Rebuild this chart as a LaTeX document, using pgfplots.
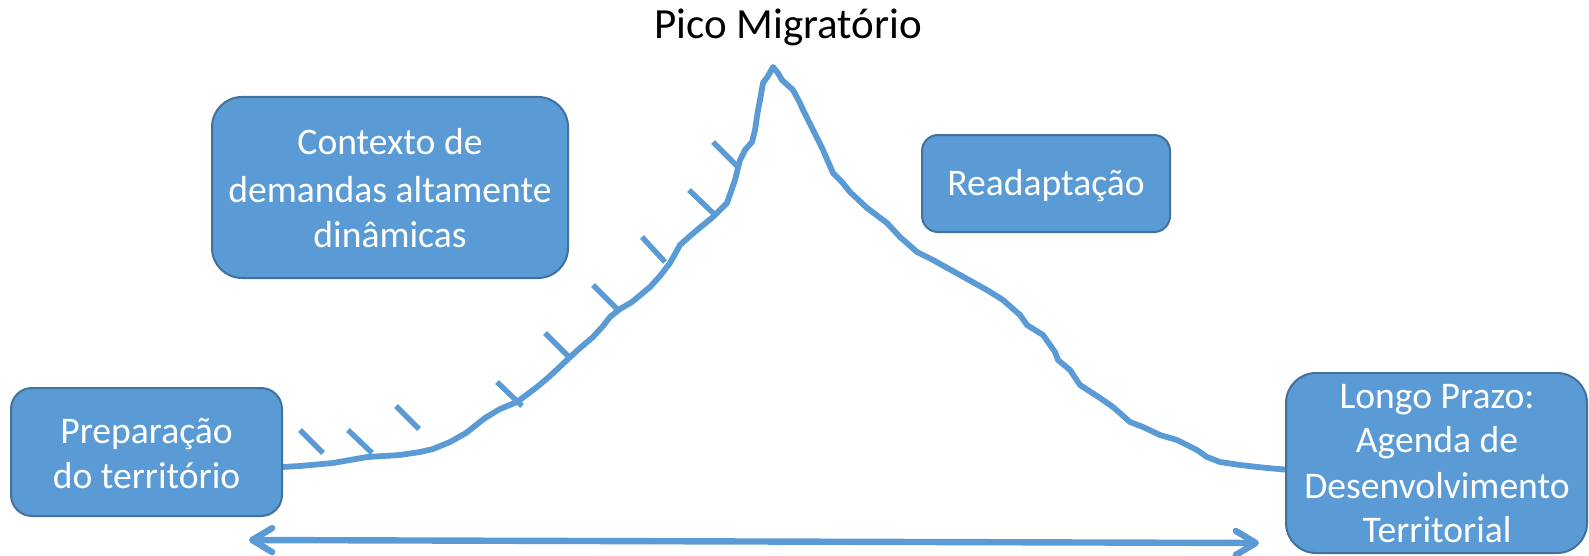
\documentclass[border=0pt]{standalone}
\usepackage{pgfplots}
\pgfplotsset{compat=1.18}
\usepackage{fontspec}
\setmainfont{Carlito}
\usetikzlibrary{arrows.meta}
\definecolor{bfill}{HTML}{5B9BD5}
\definecolor{bdraw}{HTML}{41719C}
\begin{document}
\begin{tikzpicture}
\begin{axis}[hide axis, scale only axis, width=794.5pt, height=278pt,
  xmin=0, xmax=1589, ymin=0, ymax=556, y dir=reverse, clip=false]
% curve
\addplot[bfill, line width=2.9pt, line join=round, line cap=round, no markers] coordinates {
(282,467) (300,466) (333,463) (350,460) (367,457) (400,455) (420,452) (433,449) (450,442)
(466,433) (485,418) (500,409) (517,402) (537,387) (550,376) (567,360) (580,348) (593,337)
(603,326) (610,317) (620,309) (632,302) (650,287) (660,276) (670,263) (680,245) (690,236)
(697,230) (713,217) (727,203) (735,180) (740,160) (745,150) (752,142) (755,130) (758,110)
(760,100) (763,83) (768,76) (773,67) (778,73) (782,80) (793,90) (800,103) (803,110)
(813,130) (823,150) (833,173) (842,182) (850,192) (867,208) (887,223) (900,237) (917,252)
(933,260) (960,275) (987,290) (1003,300) (1020,315) (1027,325) (1043,335) (1055,352)
(1058,360) (1070,370) (1080,385) (1100,398) (1113,407) (1130,422) (1143,427) (1160,435)
(1177,440) (1197,450) (1207,457) (1220,462) (1240,465) (1267,468) (1290,470)};
% ticks
\addplot[bfill, line width=2.7pt, no markers] coordinates {(300,430) (323,453)};
\addplot[bfill, line width=2.7pt, no markers] coordinates {(348,430) (372,453)};
\addplot[bfill, line width=2.7pt, no markers] coordinates {(396,406) (419,429)};
\addplot[bfill, line width=2.7pt, no markers] coordinates {(497,382) (522,406)};
\addplot[bfill, line width=2.7pt, no markers] coordinates {(545,333) (570,358)};
\addplot[bfill, line width=2.7pt, no markers] coordinates {(593,285) (618,310)};
\addplot[bfill, line width=2.7pt, no markers] coordinates {(642,237) (665,262)};
\addplot[bfill, line width=2.7pt, no markers] coordinates {(689,190) (713,213)};
\addplot[bfill, line width=2.7pt, no markers] coordinates {(713,142) (737,166)};
% arrow
\addplot[bfill, line width=3.2pt, no markers,
  {Straight Barb[length=10pt,width=12pt,round]}-{Straight Barb[length=10pt,width=12pt,round]}]
  coordinates {(249,540) (1259,543)};
% boxes
\draw[bdraw, fill=bfill, line width=1pt, rounded corners=15pt] (axis cs:212,97) rectangle (axis cs:568,278);
\draw[bdraw, fill=bfill, line width=1pt, rounded corners=10.5pt] (axis cs:11,388) rectangle (axis cs:282,516);
\draw[bdraw, fill=bfill, line width=1pt, rounded corners=8pt] (axis cs:922,135) rectangle (axis cs:1170,232);
\draw[bdraw, fill=bfill, line width=1pt, rounded corners=15pt] (axis cs:1286,373) rectangle (axis cs:1587,553);
% texts
\node[anchor=base, font=\fontsize{21.5}{26}\selectfont] at (axis cs:788,39) {Pico Migratório};
\tikzset{bt/.style={anchor=base, text=white, font=\fontsize{18.8}{23}\selectfont}}
\node[bt] at (axis cs:390,155) {Contexto de};
\node[bt] at (axis cs:390,202) {demandas altamente};
\node[bt] at (axis cs:390,247) {dinâmicas};
\node[bt] at (axis cs:146.5,443) {Preparação};
\node[bt] at (axis cs:146.5,488) {do território};
\node[bt] at (axis cs:1046,195) {Readaptação};
\node[bt] at (axis cs:1437,408) {Longo Prazo:};
\node[bt] at (axis cs:1437,452) {Agenda de};
\node[bt] at (axis cs:1437,498) {Desenvolvimento};
\node[bt] at (axis cs:1437,542) {Territorial};
\coordinate (sw) at (axis cs:0,556);
\coordinate (ne) at (axis cs:1589,0);
\end{axis}
\pgfresetboundingbox
\path[use as bounding box] (sw) rectangle (ne);
\end{tikzpicture}
\end{document}
